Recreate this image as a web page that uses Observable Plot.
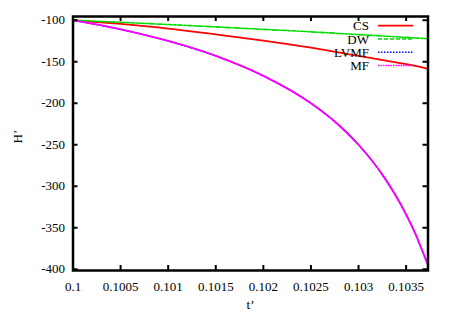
<!DOCTYPE html>
<html><head><meta charset="utf-8">
<script src="https://cdn.jsdelivr.net/npm/d3@7"></script>
<script src="https://cdn.jsdelivr.net/npm/@observablehq/plot@0.6"></script>
<style>body{margin:0;background:#fff} svg text{font-family:"Liberation Serif","DejaVu Serif",serif}</style>
</head><body><div id="chart"></div>
<script>
// t' sample positions for the nearly linear series
const tLin = [0.1, 0.1005, 0.101, 0.1015, 0.102, 0.1025, 0.103, 0.1035, 0.10373];
const hCS  = [-100, -104.5, -110, -117, -124.5, -133, -143, -153, -158.5];
const hDW  = [-100, -102.5, -105.2, -108, -111, -114, -117.3, -120.7, -122.3];
// t' sample positions for the steep series
const tMF  = [0.1, 0.1005, 0.101, 0.1015, 0.102, 0.1025, 0.10275, 0.103, 0.10325, 0.1035, 0.1036, 0.10365, 0.10373];
const hMF  = [-100, -111, -125, -143, -167, -200, -222, -250, -286, -334, -358, -372, -395];
const hLVMF = [-100, -111, -125, -143, -167, -200, -222, -250, -286, -334, -358, -372, -395];

const xTicks = [0.1, 0.1005, 0.101, 0.1015, 0.102, 0.1025, 0.103, 0.1035];
const xTickLabels = ["0.1", "0.1005", "0.101", "0.1015", "0.102", "0.1025", "0.103", "0.1035"];
const yTicks = [-100, -150, -200, -250, -300, -350, -400];
const yTickLabels = ["-100", "-150", "-200", "-250", "-300", "-350", "-400"];

const seriesNames = ["CS", "DW", "LVMF", "MF"];
const seriesColors = ["#ff0000", "#00dd00", "#0000ff", "#ff00ff"];
const seriesDash = [null, "4,2", "1.5,1.5", "1.5,1"];

const toRows = (ts, hs) => ts.map((t, i) => ({t, h: hs[i]}));
const cs = toRows(tLin, hCS), dw = toRows(tLin, hDW), lv = toRows(tMF, hLVMF), mf = toRows(tMF, hMF);
const xLab = new Map(xTicks.map((d, i) => [d, xTickLabels[i]]));
const yLab = new Map(yTicks.map((d, i) => [d, yTickLabels[i]]));

const xDomain = [0.1, 0.10373], yDomain = [-401.5, -95.5];
const W = 449, H = 314, mL = 72.5, mR = 21.5, mT = 16, mB = 44;
// tick length of 5px expressed in each scale's units
const tickLen = 5;
const dxTick = tickLen * (xDomain[1] - xDomain[0]) / (W - mL - mR);
const dyTick = tickLen * (yDomain[1] - yDomain[0]) / (H - mT - mB);

const font = "Liberation Serif";
const plot = Plot.plot({
  width: W, height: H,
  marginLeft: mL, marginRight: mR, marginTop: mT, marginBottom: mB,
  style: {fontFamily: font, fontSize: "13px", background: "white", color: "black", overflow: "visible"},
  x: {domain: xDomain},
  y: {domain: yDomain},
  marks: [
    Plot.line(lv, {x: "t", y: "h", stroke: seriesColors[2], strokeWidth: 1.5, strokeDasharray: seriesDash[2], curve: "monotone-x"}),
    Plot.line(cs, {x: "t", y: "h", stroke: seriesColors[0], strokeWidth: 1.8, curve: "monotone-x"}),
    Plot.line(dw, {x: "t", y: "h", stroke: seriesColors[1], strokeWidth: 1.6, strokeDasharray: "5,1.5,1.5,1.5", curve: "monotone-x"}),
    Plot.line(mf, {x: "t", y: "h", stroke: seriesColors[3], strokeWidth: 1.8, curve: "monotone-x"}),
    // inward ticks on all four sides
    Plot.ruleX(xTicks, {x: d => d, y1: yDomain[0], y2: yDomain[0] + dyTick, stroke: "black", strokeWidth: 2}),
    Plot.ruleX(xTicks, {x: d => d, y1: yDomain[1], y2: yDomain[1] - dyTick, stroke: "black", strokeWidth: 2}),
    Plot.ruleY(yTicks, {y: d => d, x1: xDomain[0], x2: xDomain[0] + dxTick, stroke: "black", strokeWidth: 2}),
    Plot.ruleY(yTicks, {y: d => d, x1: xDomain[1], x2: xDomain[1] - dxTick, stroke: "black", strokeWidth: 2}),
    Plot.axisX(xTicks, {anchor: "bottom", tickSize: 0, tickPadding: 11, tickFormat: d => xLab.get(d), label: null, fontSize: 13, fontFamily: font}),
    Plot.axisY(yTicks, {anchor: "left", tickSize: 0, tickPadding: 8, tickFormat: d => yLab.get(d), label: null, fontSize: 13, fontFamily: font}),
    Plot.text(["t’"], {frameAnchor: "bottom", dy: 34, lineAnchor: "middle", fontSize: 13, fontFamily: font}),
    Plot.text(["H’"], {frameAnchor: "left", dx: -55, rotate: -90, lineAnchor: "middle", fontSize: 13, fontFamily: font}),
    Plot.frame({stroke: "black", strokeWidth: 2.5})
  ]
});
document.getElementById("chart").appendChild(plot);
d3.select(plot).style("font-family", font);

// legend inside the top-right corner
const svg = d3.select(plot);
const g = svg.append("g").attr("font-family", font).attr("font-size", 13);
seriesNames.forEach((name, i) => {
  const y = 25.7 + i * 13.3;
  g.append("text").attr("x", 369).attr("y", y).attr("dy", "0.35em").attr("text-anchor", "end").attr("fill", "black").text(name);
  g.append("line").attr("x1", 378).attr("x2", 413).attr("y1", y).attr("y2", y)
    .attr("stroke", seriesColors[i]).attr("stroke-width", i === 0 ? 1.8 : 1.5)
    .attr("stroke-dasharray", seriesDash[i]);
});
</script></body></html>
